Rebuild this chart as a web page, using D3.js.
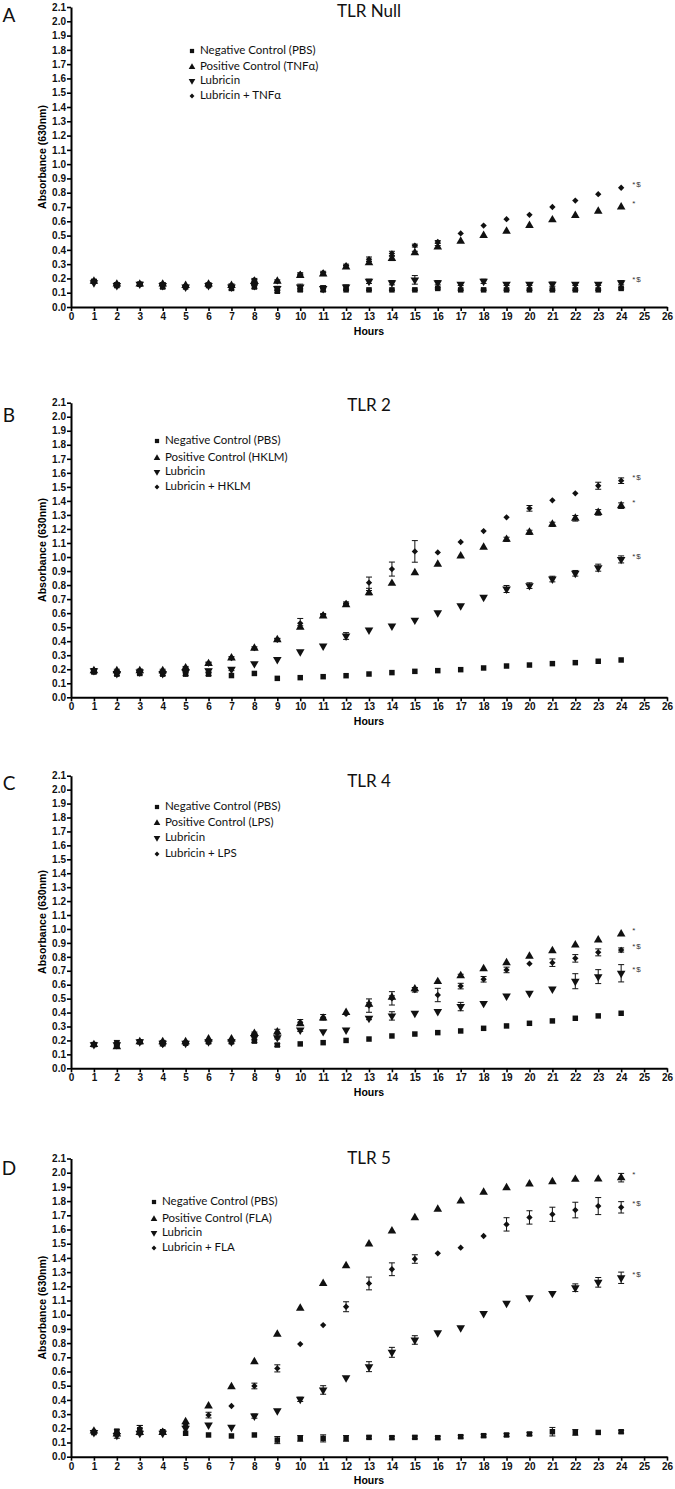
<!DOCTYPE html>
<html><head><meta charset="utf-8">
<script src="https://cdn.jsdelivr.net/npm/d3@7/dist/d3.min.js"></script>
<style>body{margin:0;background:#fff}</style>
</head><body><svg id="c" width="675" height="1489"></svg>
<script>
const hours = [1,2,3,4,5,6,7,8,9,10,11,12,13,14,15,16,17,18,19,20,21,22,23,24];
const xTicks = [0,1,2,3,4,5,6,7,8,9,10,11,12,13,14,15,16,17,18,19,20,21,22,23,24,25,26];
const yTicks = [0,0.1,0.2,0.3,0.4,0.5,0.6,0.7,0.8,0.9,1.0,1.1,1.2,1.3,1.4,1.5,1.6,1.7,1.8,1.9,2.0,2.1];

// Panel A – TLR Null
const aNames = ["Negative Control (PBS)","Positive Control (TNFα)","Lubricin","Lubricin + TNFα"];
const aNeg    = [0.18,0.15,0.16,0.14,0.14,0.15,0.13,0.14,0.11,0.12,0.12,0.12,0.12,0.12,0.12,0.13,0.12,0.12,0.12,0.12,0.12,0.12,0.12,0.13];
const aPos    = [0.18,0.16,0.16,0.16,0.15,0.16,0.15,0.18,0.18,0.22,0.23,0.28,0.31,0.34,0.38,0.42,0.46,0.50,0.53,0.57,0.61,0.64,0.67,0.70];
const aLub    = [0.17,0.15,0.16,0.15,0.14,0.15,0.14,0.15,0.13,0.14,0.13,0.14,0.18,0.17,0.19,0.17,0.16,0.18,0.16,0.16,0.16,0.16,0.16,0.17];
const aLubPos = [0.18,0.16,0.16,0.16,0.15,0.155,0.15,0.19,0.18,0.23,0.24,0.29,0.335,0.375,0.43,0.455,0.515,0.57,0.615,0.645,0.70,0.745,0.79,0.835];
const aNegErr    = [0.01,0.01,0.01,0.01,0.005,0.005,0.01,0.01,0.01,0.01,0.01,0.005,0.005,0.005,0.005,0.005,0.005,0.005,0.005,0.005,0.005,0.005,0.005,0.005];
const aPosErr    = [0.01,0.01,0,0.01,0,0.01,0.01,0.01,0.01,0.01,0.01,0.01,0.01,0.015,0.01,0.01,0,0,0,0,0,0,0,0];
const aLubErr    = [0,0,0,0,0,0,0,0,0.015,0.02,0.02,0.015,0.015,0.015,0.03,0.015,0.01,0.015,0.01,0.01,0.015,0.01,0.01,0.015];
const aLubPosErr = [0.01,0.01,0.01,0.01,0,0.01,0.01,0.01,0,0.01,0.01,0.01,0.015,0.015,0.01,0.01,0,0,0,0,0,0,0,0];
const aNotes = ["", "*", "*$", "*$"];

// Panel B – TLR 2
const bNames = ["Negative Control (PBS)","Positive Control (HKLM)","Lubricin","Lubricin + HKLM"];
const bNeg    = [0.18,0.165,0.17,0.165,0.165,0.165,0.155,0.17,0.135,0.14,0.147,0.154,0.166,0.176,0.185,0.19,0.197,0.209,0.223,0.23,0.24,0.247,0.257,0.266];
const bPos    = [0.19,0.19,0.19,0.19,0.21,0.24,0.28,0.35,0.41,0.50,0.58,0.66,0.746,0.812,0.888,0.948,1.007,1.069,1.126,1.176,1.233,1.276,1.318,1.366];
const bLub    = [0.19,0.17,0.18,0.17,0.18,0.19,0.20,0.24,0.27,0.325,0.366,0.437,0.48,0.508,0.55,0.603,0.653,0.713,0.772,0.796,0.843,0.884,0.924,0.983];
const bLubPos = [0.195,0.18,0.19,0.18,0.20,0.24,0.28,0.35,0.41,0.527,0.587,0.67,0.817,0.914,1.04,1.033,1.107,1.185,1.283,1.347,1.404,1.454,1.508,1.544];
const bNegErr    = [0.01,0.01,0.01,0.01,0.01,0.01,0,0,0,0,0,0,0,0,0,0,0,0,0,0,0,0,0,0];
const bPosErr    = [0.01,0.01,0.01,0.01,0.01,0.01,0.01,0.01,0.01,0.01,0.01,0.01,0.015,0,0,0,0,0,0.015,0.015,0.015,0.02,0.02,0.02];
const bLubErr    = [0,0,0,0,0,0.01,0.01,0,0,0,0,0.024,0,0,0,0,0,0,0.025,0.02,0.02,0.02,0.025,0.025];
const bLubPosErr = [0.01,0.01,0.01,0.01,0.01,0.01,0,0,0.01,0.035,0.01,0.01,0.04,0.05,0.077,0,0,0,0,0.02,0,0,0.025,0.02];
const bNotes = ["", "*", "*$", "*$"];

// Panel C – TLR 4
const cNames = ["Negative Control (PBS)","Positive Control (LPS)","Lubricin","Lubricin + LPS"];
const cNeg    = [0.17,0.18,0.19,0.18,0.18,0.19,0.19,0.195,0.167,0.175,0.184,0.20,0.21,0.232,0.246,0.256,0.268,0.287,0.304,0.323,0.34,0.359,0.376,0.395];
const cPos    = [0.17,0.155,0.19,0.19,0.19,0.21,0.21,0.25,0.26,0.32,0.36,0.40,0.46,0.51,0.57,0.622,0.665,0.715,0.758,0.804,0.844,0.885,0.921,0.964];
const cLub    = [0.17,0.17,0.19,0.18,0.18,0.19,0.19,0.22,0.22,0.275,0.263,0.275,0.359,0.376,0.395,0.407,0.443,0.466,0.519,0.538,0.569,0.625,0.658,0.682];
const cLubPos = [0.17,0.17,0.19,0.17,0.18,0.19,0.20,0.25,0.25,0.33,0.366,0.39,0.45,0.502,0.562,0.526,0.59,0.639,0.706,0.751,0.758,0.789,0.832,0.849];
const cNegErr    = [0.01,0.02,0.01,0.01,0.01,0.01,0.01,0.01,0.01,0,0,0,0,0,0,0,0,0,0,0,0,0,0,0];
const cPosErr    = [0,0,0,0,0,0,0,0,0,0,0,0,0.01,0.01,0.01,0,0.01,0,0,0,0,0,0,0];
const cLubErr    = [0,0.01,0.01,0.02,0,0,0,0,0.01,0.01,0,0,0.01,0.03,0,0,0.03,0,0,0,0,0.054,0.05,0.062];
const cLubPosErr = [0,0,0,0,0,0,0,0.01,0.03,0.02,0.02,0,0.048,0.048,0.015,0.048,0.02,0.02,0.02,0,0.027,0.027,0.025,0.015];
const cNotes = ["", "*", "*$", "*$"];

// Panel D – TLR 5
const dNames = ["Negative Control (PBS)","Positive Control (FLA)","Lubricin","Lubricin + FLA"];
const dNeg    = [0.17,0.18,0.19,0.176,0.165,0.153,0.146,0.153,0.117,0.129,0.129,0.129,0.136,0.134,0.136,0.134,0.141,0.148,0.153,0.16,0.176,0.171,0.171,0.176];
const dPos    = [0.18,0.16,0.17,0.17,0.246,0.357,0.493,0.669,0.862,1.045,1.22,1.345,1.498,1.59,1.683,1.742,1.80,1.862,1.894,1.92,1.937,1.953,1.955,1.965];
const dLub    = [0.17,0.15,0.165,0.165,0.20,0.223,0.207,0.286,0.324,0.404,0.47,0.556,0.634,0.735,0.822,0.873,0.908,1.009,1.08,1.12,1.15,1.19,1.228,1.26];
const dLubPos = [0.18,0.17,0.20,0.18,0.223,0.293,0.357,0.498,0.622,0.793,0.927,1.056,1.22,1.32,1.392,1.432,1.472,1.554,1.636,1.685,1.707,1.737,1.765,1.756];
const dNegErr    = [0.01,0.01,0.03,0.01,0,0,0,0,0.025,0.02,0.025,0.02,0.01,0.01,0.01,0.01,0.01,0.01,0.01,0.01,0.03,0.02,0,0.01];
const dPosErr    = [0,0,0,0,0,0,0,0,0,0,0,0,0,0,0,0,0,0,0,0,0,0,0,0.03];
const dLubErr    = [0,0.02,0.01,0,0,0,0,0.015,0,0.015,0.03,0,0.035,0.035,0.03,0,0,0,0,0,0,0.027,0.034,0.04];
const dLubPosErr = [0,0,0.02,0,0,0.02,0,0.02,0.025,0,0,0.035,0.045,0.045,0.03,0,0,0,0.047,0.047,0.05,0.055,0.06,0.04];
const dNotes = ["", "*", "*$", "*$"];

const panels = [
  {letter:"A", title:"TLR Null", names:aNames, data:[aNeg,aPos,aLub,aLubPos], errs:[aNegErr,aPosErr,aLubErr,aLubPosErr], notes:aNotes,
   top:7, bottom:307, titleY:13, letterY:17, legX:192, legY:[51,67,81,96]},
  {letter:"B", title:"TLR 2", names:bNames, data:[bNeg,bPos,bLub,bLubPos], errs:[bNegErr,bPosErr,bLubErr,bLubPosErr], notes:bNotes,
   top:402.7, bottom:697.3, titleY:407, letterY:417, legX:157, legY:[441,458,472,487]},
  {letter:"C", title:"TLR 4", names:cNames, data:[cNeg,cPos,cLub,cLubPos], errs:[cNegErr,cPosErr,cLubErr,cLubPosErr], notes:cNotes,
   top:775.7, bottom:1068.3, titleY:783, letterY:785, legX:157, legY:[807,823,838,854]},
  {letter:"D", title:"TLR 5", names:dNames, data:[dNeg,dPos,dLub,dLubPos], errs:[dNegErr,dPosErr,dLubErr,dLubPosErr], notes:dNotes,
   top:1158.5, bottom:1456.7, titleY:1160, letterY:1170, legX:154, legY:[1202,1219,1233,1248]}
];

const svg = d3.select("#c");
const X0 = 71, X1 = 667;
const axisFont = "'Liberation Sans', Arial, sans-serif";
const textFont = "Lato, 'Open Sans', sans-serif";
const shapes = [
  {type:d3.symbolSquare, size:30, rot:0},
  {type:d3.symbolTriangle, size:32, rot:0},
  {type:d3.symbolTriangle, size:32, rot:180},
  {type:d3.symbolSquare, size:20, rot:45}
];

panels.forEach(p => {
  const g = svg.append("g");
  const x = d3.scaleLinear().domain([0,26]).range([X0,X1]);
  const y = d3.scaleLinear().domain([0,2.1]).range([p.bottom,p.top]);

  // axes
  const ya = g.append("g").attr("transform",`translate(${X0},0)`)
    .call(d3.axisLeft(y).tickValues(yTicks).tickFormat(d3.format(".1f")).tickSize(4).tickSizeOuter(0).tickPadding(1));
  const xa = g.append("g").attr("transform",`translate(0,${p.bottom})`)
    .call(d3.axisBottom(x).tickValues(xTicks).tickFormat(d3.format("d")).tickSize(4).tickSizeOuter(0).tickPadding(2));
  [ya,xa].forEach(a => {
    a.select(".domain").attr("stroke","#000").attr("stroke-width",2);
    a.selectAll(".tick line").attr("stroke","#000").attr("stroke-width",1.6);
    a.selectAll("text").attr("font-family",axisFont).attr("font-weight","bold").attr("font-size",10).attr("fill","#111");
  });

  // axis titles
  g.append("text").attr("transform",`translate(43,${(p.top+p.bottom)/2}) rotate(-90)`)
    .attr("text-anchor","middle").attr("dominant-baseline","middle")
    .attr("font-family",axisFont).attr("font-weight","bold").attr("font-size",10.5).text("Absorbance (630nm)");
  g.append("text").attr("x",x(13)).attr("y",p.bottom+25).attr("text-anchor","middle").attr("dominant-baseline","middle")
    .attr("font-family",axisFont).attr("font-weight","bold").attr("font-size",10.5).text("Hours");

  // panel title and letter
  g.append("text").attr("x",x(13)).attr("y",p.titleY).attr("text-anchor","middle").attr("dominant-baseline","middle")
    .attr("font-family",textFont).attr("font-size",17).attr("fill","#111").text(p.title);
  g.append("text").attr("x",9).attr("y",p.letterY).attr("text-anchor","middle").attr("dominant-baseline","middle")
    .attr("font-family",textFont).attr("font-size",19).attr("fill","#111").text(p.letter);

  // series
  p.data.forEach((vals,si) => {
    const sh = shapes[si];
    const errs = p.errs[si];
    const sg = g.append("g");
    hours.forEach((h,i) => {
      const v = vals[i], e = errs[i];
      if (e > 0) {
        const cx = x(h), ya1 = y(v+e), ya2 = y(v-e);
        sg.append("line").attr("x1",cx).attr("x2",cx).attr("y1",ya1).attr("y2",ya2).attr("stroke","#111").attr("stroke-width",1);
        sg.append("line").attr("x1",cx-3).attr("x2",cx+3).attr("y1",ya1).attr("y2",ya1).attr("stroke","#111").attr("stroke-width",1);
        sg.append("line").attr("x1",cx-3).attr("x2",cx+3).attr("y1",ya2).attr("y2",ya2).attr("stroke","#111").attr("stroke-width",1);
      }
    });
    sg.selectAll("path.m").data(hours).join("path").attr("class","m")
      .attr("d", d3.symbol().type(sh.type).size(sh.size))
      .attr("transform",(h,i)=>`translate(${x(h)},${y(vals[i])}) rotate(${sh.rot})`)
      .attr("fill","#111");
    // significance note at the last point
    const note = p.notes[si];
    if (note) {
      g.append("text").attr("x",x(24)+11).attr("y",y(vals[vals.length-1])-3)
        .attr("dominant-baseline","middle").attr("font-family",axisFont).attr("font-size",8)
        .attr("fill","#333").attr("letter-spacing",1).text(note);
    }
  });

  // legend
  p.names.forEach((n,i) => {
    const sh = shapes[i];
    g.append("path").attr("d",d3.symbol().type(sh.type).size(sh.size*0.6))
      .attr("transform",`translate(${p.legX},${p.legY[i]}) rotate(${sh.rot})`).attr("fill","#111");
    g.append("text").attr("x",p.legX+8).attr("y",p.legY[i]).attr("dominant-baseline","middle")
      .attr("font-family",textFont).attr("font-size",11.5).attr("fill","#111").text(n);
  });
});
</script>
</body></html>
